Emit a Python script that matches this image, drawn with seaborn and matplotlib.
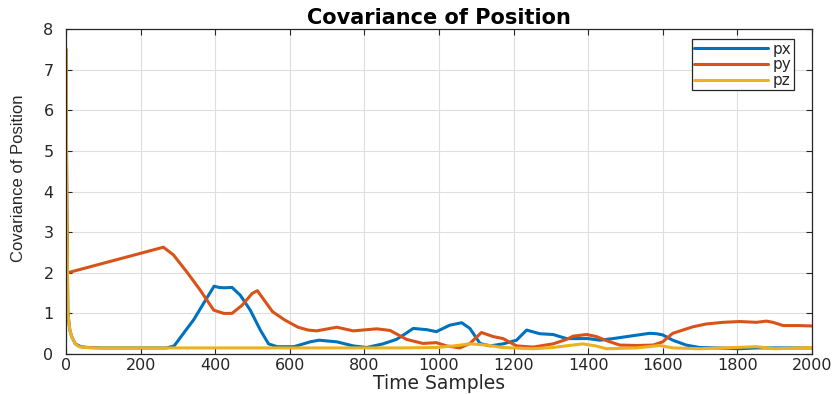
import numpy as np
import pandas as pd
import matplotlib
matplotlib.use("Agg")
import matplotlib.pyplot as plt
import seaborn as sns

# Covariance traces of the position estimate (px, py, pz) over time samples
px_t = [0, 2, 5, 10, 15, 25, 40, 60, 100, 200, 270, 290, 315, 342, 369, 397, 410,
        423, 445, 467, 494, 521, 543, 566, 611, 655, 678, 726, 770, 806, 850, 886,
        910, 931, 967, 993, 1029, 1061, 1083, 1110, 1137, 1172, 1208, 1235, 1270,
        1306, 1342, 1400, 1431, 1467, 1512, 1565, 1583, 1600, 1627, 1663, 1699,
        1744, 1806, 1851, 1900, 2000]
px_v = [7.5, 3.5, 1.0, 0.6, 0.43, 0.25, 0.18, 0.16, 0.15, 0.15, 0.15, 0.2, 0.51,
        0.84, 1.25, 1.67, 1.64, 1.63, 1.64, 1.45, 1.08, 0.59, 0.25, 0.18, 0.18,
        0.3, 0.34, 0.3, 0.2, 0.16, 0.25, 0.36, 0.5, 0.63, 0.6, 0.55, 0.71, 0.77,
        0.63, 0.26, 0.2, 0.25, 0.34, 0.59, 0.5, 0.48, 0.38, 0.38, 0.34, 0.38,
        0.44, 0.51, 0.5, 0.47, 0.34, 0.22, 0.16, 0.15, 0.13, 0.15, 0.15, 0.15]

py_t = [0, 2, 4, 261, 288, 324, 360, 396, 423, 445, 472, 499, 513, 531, 554,
        586, 622, 649, 672, 726, 770, 833, 869, 913, 957, 993, 1020, 1056, 1083,
        1114, 1145, 1172, 1208, 1252, 1306, 1342, 1360, 1396, 1422, 1449, 1485,
        1530, 1574, 1600, 1627, 1654, 1681, 1717, 1762, 1806, 1851, 1878, 1896,
        1923, 1967, 2000]
py_v = [7.5, 3.5, 2.0, 2.63, 2.44, 2.02, 1.57, 1.08, 1.0, 1.0, 1.2, 1.49,
        1.56, 1.33, 1.04, 0.84, 0.66, 0.59, 0.57, 0.66, 0.57, 0.62, 0.58, 0.36,
        0.26, 0.28, 0.2, 0.15, 0.26, 0.53, 0.43, 0.38, 0.2, 0.17, 0.25, 0.36,
        0.44, 0.48, 0.43, 0.33, 0.22, 0.21, 0.22, 0.3, 0.51, 0.59, 0.67, 0.74,
        0.78, 0.8, 0.78, 0.81, 0.78, 0.7, 0.7, 0.69]

pz_t = [0, 2, 5, 10, 15, 25, 35, 50, 80, 200, 500, 900, 993, 1040, 1083, 1128,
        1170, 1252, 1306, 1340, 1386, 1420, 1449, 1530, 1592, 1627, 1700, 1851,
        1900, 2000]
pz_v = [7.5, 3.5, 1.0, 0.6, 0.43, 0.25, 0.18, 0.16, 0.15, 0.15, 0.15, 0.15, 0.16,
        0.2, 0.25, 0.22, 0.16, 0.13, 0.16, 0.2, 0.25, 0.2, 0.13, 0.15, 0.21,
        0.15, 0.13, 0.18, 0.13, 0.16]

series_names = ["px", "py", "pz"]
series_colors = ["#0072BD", "#D95319", "#EDB120"]
x_ticks = list(range(0, 2001, 200))
y_ticks = list(range(0, 9))

df = pd.concat([
    pd.DataFrame({"t": px_t, "cov": px_v, "series": "px"}),
    pd.DataFrame({"t": py_t, "cov": py_v, "series": "py"}),
    pd.DataFrame({"t": pz_t, "cov": pz_v, "series": "pz"}),
], ignore_index=True)

sns.set_theme(style="whitegrid")
plt.rcParams["font.family"] = ["DejaVu Sans"]

dark = "#262626"
fig = plt.figure(figsize=(8.37, 3.94), dpi=100)
ax = fig.add_axes([0.0789, 0.1015, 0.8911, 0.8245])

sns.lineplot(data=df, x="t", y="cov", hue="series", hue_order=series_names,
             palette=dict(zip(series_names, series_colors)), linewidth=2.2,
             sort=False, estimator=None, ax=ax)

ax.set_xlim(0, 2000)
ax.set_ylim(0, 8)
ax.set_xticks(x_ticks)
ax.set_yticks(y_ticks)
ax.set_facecolor("white")
ax.grid(True, color="#dedede", linewidth=0.8)
for s in ax.spines.values():
    s.set_visible(True)
    s.set_color(dark)
    s.set_linewidth(0.9)
ax.tick_params(direction="in", length=4, width=0.8, color=dark,
               labelcolor=dark, labelsize=11.5, top=True, right=True,
               bottom=True, left=True, labeltop=False, labelright=False)
ax.tick_params(axis="x", pad=3)
ax.tick_params(axis="y", pad=9)

ax.set_title("Covariance of Position", fontsize=15, fontweight="bold",
             color="black", pad=4)
ax.set_xlabel("Time Samples", fontsize=13.5, color=dark, va="bottom")
ax.xaxis.set_label_coords(0.5, -0.12)
ax.set_ylabel("Covariance of Position", fontsize=12, color=dark,
              family=["Liberation Sans Narrow", "Liberation Sans"])
ax.yaxis.set_label_coords(-0.054, 0.54)

handles, labels = ax.get_legend_handles_labels()
leg = ax.legend(handles, labels, loc="upper right",
                bbox_to_anchor=(0.976, 0.969), borderaxespad=0,
                fontsize=11, handlelength=4.8, handletextpad=0.35,
                labelspacing=0.05, borderpad=0.15, fancybox=False,
                framealpha=1, edgecolor=dark)
leg.get_frame().set_linewidth(0.9)
for line in leg.get_lines():
    line.set_linewidth(2.2)

fig.savefig("out.png", dpi=100)
